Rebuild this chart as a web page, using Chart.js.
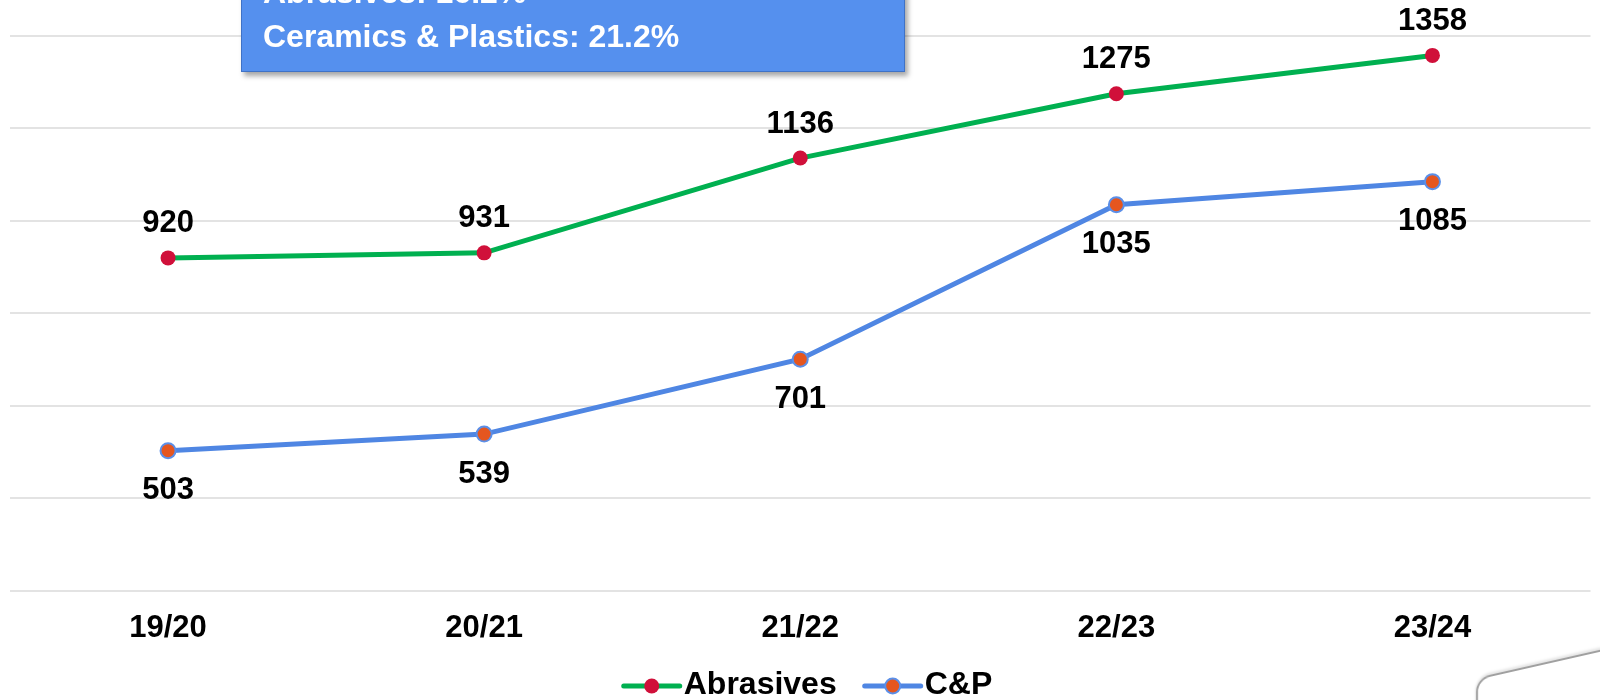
<!DOCTYPE html>
<html>
<head>
<meta charset="utf-8">
<script src="https://cdn.jsdelivr.net/npm/chart.js@4/dist/chart.umd.min.js"></script>
<style>
    body { margin: 0; background: #fff; overflow: hidden; }
    #wrap { position: relative; width: 1600px; height: 700px; overflow: hidden; }
    #growthBox {
        position: absolute; left: 241px; top: -31px; width: 641px; height: 101px;
        padding: 0 0 0 21px;
        background: #5590ee; border: 1px solid #3f72c6;
        box-shadow: 3px 4px 5px rgba(0, 0, 0, 0.35);
        color: #fff; font: bold 32px 'Liberation Sans', Arial, sans-serif; line-height: 44px;
    }
    #cornerShape {
        position: absolute; left: 1476px; top: 678px; width: 220px; height: 120px;
        border: 2px solid #a0a0a0; border-radius: 14px;
        transform-origin: top left; transform: skewY(-12.8deg);
        box-shadow: 0 -2px 3px rgba(0, 0, 0, 0.12);
        background: #fff;
    }
</style>
</head>
<body>
<div id="wrap">
    <canvas id="growthChart" width="1600" height="700"></canvas>
    <div id="growthBox"></div>
    <div id="cornerShape"></div>
</div>
<script>
// =====================================================
// DATA
// =====================================================
const categories = ['19/20', '20/21', '21/22', '22/23', '23/24'];
const abrasives = [920, 931, 1136, 1275, 1358];
const ceramicsPlastics = [503, 539, 701, 1035, 1085];
const seriesNames = ['Abrasives', 'C&P'];
const yMin = 200, yMax = 1400, yStep = 200;
const boxLines = ['Abrasives: 16.2%', 'Ceramics & Plastics: 21.2%'];

const FONT = "'Liberation Sans', Arial, sans-serif";

document.getElementById('growthBox').innerHTML = boxLines.map(l => `<div>${l}</div>`).join('');

// value labels: green above, blue below
const valueLabels = {
    id: 'valueLabels',
    afterDatasetsDraw(chart) {
        const ctx = chart.ctx;
        ctx.save();
        ctx.font = `bold 31px ${FONT}`;
        ctx.fillStyle = '#000';
        ctx.textAlign = 'center';
        ctx.textBaseline = 'middle';
        chart.data.datasets.forEach((ds, i) => {
            const off = i === 0 ? -34 : 40;
            chart.getDatasetMeta(i).data.forEach((pt, j) => {
                ctx.fillText(String(ds.data[j]), pt.x, pt.y + off);
            });
        });
        ctx.restore();
    }
};

// legend with line + marker, at the bottom
const lineLegend = {
    id: 'lineLegend',
    afterDraw(chart) {
        const ctx = chart.ctx;
        const y = 685, centerX = 808;
        const lineW = 56, gapText = 4, gapItem = 28;
        ctx.save();
        ctx.font = `bold 32px ${FONT}`;
        const items = chart.data.datasets.map(ds => ({ ds, w: ctx.measureText(ds.label).width }));
        const total = items.reduce((s, it) => s + lineW + gapText + it.w, 0) + gapItem * (items.length - 1);
        let x = centerX - total / 2;
        items.forEach(({ ds, w }) => {
            ctx.strokeStyle = ds.borderColor;
            ctx.lineWidth = 5;
            ctx.lineCap = 'round';
            ctx.beginPath();
            ctx.moveTo(x, y + 1);
            ctx.lineTo(x + lineW, y + 1);
            ctx.stroke();
            ctx.beginPath();
            ctx.arc(x + lineW / 2, y + 1, 7.5, 0, Math.PI * 2);
            ctx.fillStyle = ds.pointBackgroundColor;
            ctx.fill();
            if (ds.pointBorderWidth) {
                ctx.lineWidth = ds.pointBorderWidth;
                ctx.strokeStyle = ds.pointBorderColor;
                ctx.stroke();
            }
            ctx.fillStyle = '#000';
            ctx.textAlign = 'left';
            ctx.textBaseline = 'middle';
            ctx.fillText(ds.label, x + lineW + gapText, y);
            x += lineW + gapText + w + gapItem;
        });
        ctx.restore();
    }
};

new Chart(document.getElementById('growthChart').getContext('2d'), {
    type: 'line',
    data: {
        labels: categories,
        datasets: [{
            label: seriesNames[0],
            data: abrasives,
            borderColor: '#00b050',
            borderWidth: 5,
            pointBackgroundColor: '#d0103a',
            pointBorderColor: '#d0103a',
            pointBorderWidth: 0,
            pointRadius: 7.5,
            tension: 0
        }, {
            label: seriesNames[1],
            data: ceramicsPlastics,
            borderColor: '#4f86e3',
            borderWidth: 5,
            pointBackgroundColor: '#e5561f',
            pointBorderColor: '#5b8fe8',
            pointBorderWidth: 2,
            pointRadius: 7.5,
            tension: 0
        }]
    },
    options: {
        responsive: false,
        animation: false,
        layout: { padding: { left: 10, right: 0, top: 36, bottom: 34 } },
        plugins: { legend: { display: false }, tooltip: { enabled: false } },
        scales: {
            x: {
                offset: true,
                grid: { display: false, drawTicks: false },
                border: { display: false },
                ticks: { color: '#000', padding: 19, font: { family: FONT, size: 31, weight: 'bold' } }
            },
            y: {
                min: yMin,
                max: yMax,
                ticks: { display: false, stepSize: yStep },
                grid: { color: '#e3e3e3', lineWidth: 2, drawTicks: false },
                border: { display: false }
            }
        }
    },
    plugins: [valueLabels, lineLegend]
});
</script>
</body>
</html>
